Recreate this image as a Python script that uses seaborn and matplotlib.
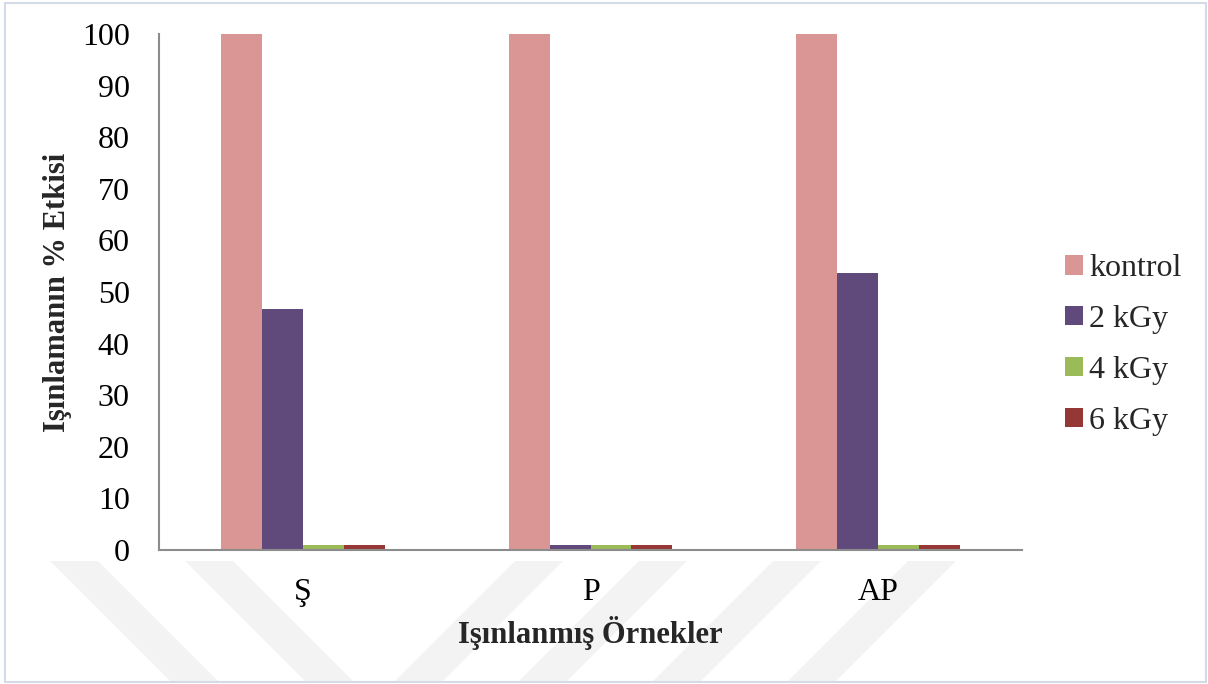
import matplotlib
matplotlib.use("Agg")
import matplotlib.pyplot as plt
import seaborn as sns
import pandas as pd
from matplotlib.patches import Rectangle, Polygon

# Data
categories = ["Ş", "P", "AP"]
series = ["kontrol", "2 kGy", "4 kGy", "6 kGy"]
kontrol = [100, 100, 100]
kgy2 = [46.7, 1, 53.6]
kgy4 = [1, 1, 1]
kgy6 = [1, 1, 1]
y_ticks = [0, 10, 20, 30, 40, 50, 60, 70, 80, 90, 100]

colors = ["#D99694", "#604A7B", "#9BBB59", "#953735"]

rows = []
for name, vals in zip(series, [kontrol, kgy2, kgy4, kgy6]):
    for cat, v in zip(categories, vals):
        rows.append({"Örnek": cat, "Doz": name, "Etki": v})
df = pd.DataFrame(rows)

sns.set_style("white")
plt.rcParams["font.family"] = ["Liberation Serif", "DejaVu Serif"]

W, H = 1208, 684
fig = plt.figure(figsize=(W / 100, H / 100), dpi=100)
fig.patch.set_facecolor("white")

# faint diagonal background stripes along the bottom edge
def px(x, y):
    return (x / W, 1 - y / H)

top, bot, sw = 561, 682, 48
dy = bot - top
for x0 in [50, 185]:
    pts = [px(x0, top), px(x0 + sw, top), px(x0 + sw + dy, bot), px(x0 + dy, bot)]
    fig.patches.append(Polygon(pts, closed=True, transform=fig.transFigure,
                               facecolor="#f3f3f3", edgecolor="none", zorder=0))
for x0 in [515, 639, 773, 908]:
    pts = [px(x0, top), px(x0 + sw, top), px(x0 + sw - dy, bot), px(x0 - dy, bot)]
    fig.patches.append(Polygon(pts, closed=True, transform=fig.transFigure,
                               facecolor="#f3f3f3", edgecolor="none", zorder=0))

# outer chart frame
fig.patches.append(Rectangle(px(5, 682), 1201 / W, 679 / H, transform=fig.transFigure,
                             facecolor="none", edgecolor="#d3dbe8", linewidth=1.5, zorder=1))

ax = fig.add_axes([159 / W, 1 - 550 / H, (1022 - 159) / W, (550 - 34) / H])
ax.set_facecolor("none")
ax.set_zorder(3)

sns.barplot(data=df, x="Örnek", y="Etki", hue="Doz", order=categories, hue_order=series,
            palette=colors, width=0.57, saturation=1, linewidth=0, ax=ax, legend=True)

ax.set_xlim(-0.5, 2.5)
ax.set_ylim(0, 100)
ax.set_yticks(y_ticks)
ax.set_yticklabels([str(t) for t in y_ticks])

for s in ["top", "right"]:
    ax.spines[s].set_visible(False)
for s in ["left", "bottom"]:
    ax.spines[s].set_color("#8c8c8c")
    ax.spines[s].set_linewidth(1.5)

ax.tick_params(axis="y", which="major", length=9, width=1.3, color="#8c8c8c",
               direction="out", labelsize=23, pad=12, labelcolor="black")
ax.tick_params(axis="x", which="major", length=0, labelsize=23, pad=20, labelcolor="black")

ax.set_ylabel("Işınlamanın % Etkisi", fontsize=22, fontweight="bold")
ax.yaxis.label.set_va("center")
ax.yaxis.set_label_coords((58 - 159) / (1022 - 159), 0.5)
ax.set_xlabel("Işınlanmış Örnekler", fontsize=22, fontweight="bold")
ax.xaxis.label.set_va("center")
ax.xaxis.set_label_coords(0.5, -(633 - 550) / (550 - 34))

leg = ax.legend(loc="center left", bbox_to_anchor=(1065 / W, 1 - 345 / H),
                bbox_transform=fig.transFigure, frameon=False, fontsize=23,
                handlelength=0.55, handleheight=0.55, handletextpad=0.2,
                labelspacing=0.68, borderpad=0, borderaxespad=0)

fig.savefig("out.png", dpi=100, facecolor="white")
